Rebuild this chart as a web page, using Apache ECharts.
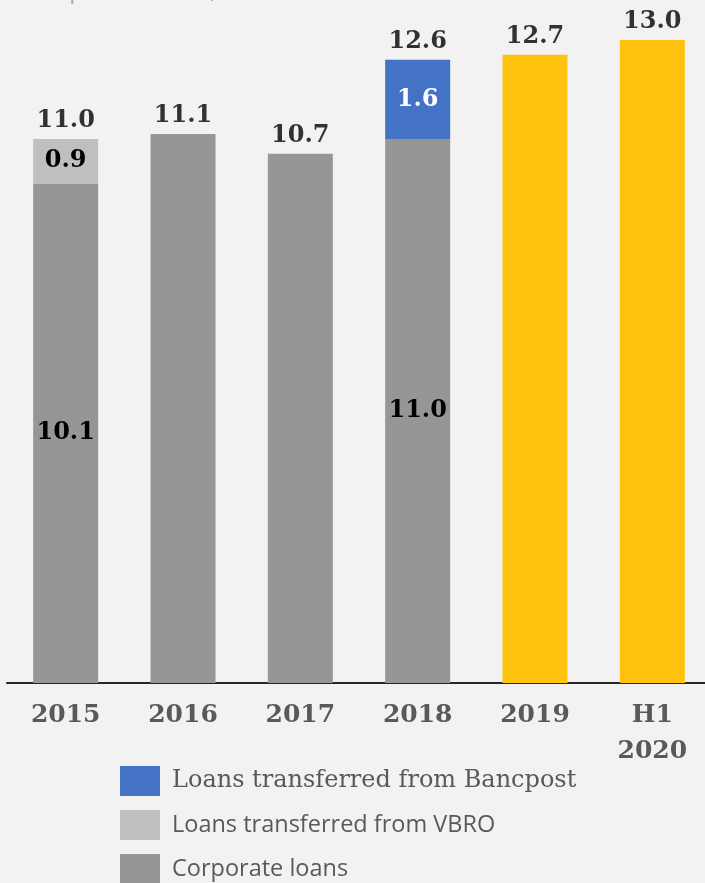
<!DOCTYPE html>
<html><head><meta charset="utf-8">
<script src="https://cdn.jsdelivr.net/npm/echarts@6/dist/echarts.min.js"></script>
<style>html,body{margin:0;padding:0;background:#F2F2F2;overflow:hidden;width:705px;height:883px}#c{width:711px;height:883px}</style>
</head><body><div id="c"></div>
<script>
var categories = ['2015', '2016', '2017', '2018', '2019', 'H1\n2020'];
var corporateLoans = [10.1, 11.1, 10.7, 11.0, 12.7, 13.0];
var vbroLoans = [0.9, null, null, null, null, null];
var bancpostLoans = [null, null, null, 1.6, null, null];
var totals = [11.0, 11.1, 10.7, 12.6, 12.7, 13.0];
var insideLabelIdx = [0, 3];
var highlightIdx = [4, 5];

var serif = '"DejaVu Serif", Georgia, serif';
var sans = '"Open Sans", sans-serif';
var chart = echarts.init(document.getElementById('c'));
var corpData = corporateLoans.map(function (v, i) {
  var d = { value: v };
  if (highlightIdx.indexOf(i) >= 0) d.itemStyle = { color: '#FFC20E' };
  if (insideLabelIdx.indexOf(i) >= 0) d.label = { show: true };
  return d;
});
var lblStyle = { fontFamily: serif, fontWeight: 'bold', fontSize: 24, color: '#000' };
function legendAt(top, name, font, size) {
  return {
    orient: 'vertical', left: 120, top: top, padding: 0, itemWidth: 40, itemHeight: 30,
    icon: 'rect', selectedMode: false,
    data: [{ name: name }],
    textStyle: { fontFamily: font, fontSize: size, color: '#595959', padding: [0, 0, 0, 7] }
  };
}
chart.setOption({
  backgroundColor: '#F2F2F2',
  animation: false,
  graphic: [{ type: 'text', left: 30, top: -21, style: { text: 'Corporate loans, RON bn', font: '24px "Open Sans", sans-serif', fill: '#A6A6A6' } }],
  grid: { left: 7, right: 0, top: 40, bottom: 200, containLabel: false },
  legend: [
    legendAt(766, 'Loans transferred from Bancpost', serif, 24),
    legendAt(810, 'Loans transferred from VBRO', sans, 23.5),
    legendAt(854, 'Corporate loans', sans, 23.5)
  ],
  xAxis: {
    type: 'category', data: categories,
    axisLine: { lineStyle: { color: '#262626', width: 2 } },
    axisTick: { show: false },
    axisLabel: { margin: 14, fontFamily: serif, fontWeight: 'bold', fontSize: 25, color: '#595959', lineHeight: 36, verticalAlign: 'top' }
  },
  yAxis: { type: 'value', min: 0, max: 13, show: false, splitLine: { show: false } },
  series: [
    { name: 'Corporate loans', type: 'bar', stack: 's', barWidth: 65, data: corpData,
      itemStyle: { color: '#969696' },
      label: { show: false, position: 'inside', ...lblStyle, formatter: function (p) { return p.value.toFixed(1); } } },
    { name: 'Loans transferred from VBRO', type: 'bar', stack: 's', barWidth: 65, data: vbroLoans,
      itemStyle: { color: '#BFBFBF' },
      label: { show: true, position: 'inside', ...lblStyle, formatter: function (p) { return p.value.toFixed(1); } } },
    { name: 'Loans transferred from Bancpost', type: 'bar', stack: 's', barWidth: 65, data: bancpostLoans,
      itemStyle: { color: '#4472C4' },
      label: { show: true, position: 'inside', ...lblStyle, color: '#fff', formatter: function (p) { return p.value.toFixed(1); } } },
    { name: 'Total', type: 'scatter', data: totals, symbolSize: 0, silent: true,
      label: { show: true, position: 'top', distance: 6, ...lblStyle, formatter: function (p) { return p.value.toFixed(1); } } }
  ]
});
</script></body></html>
